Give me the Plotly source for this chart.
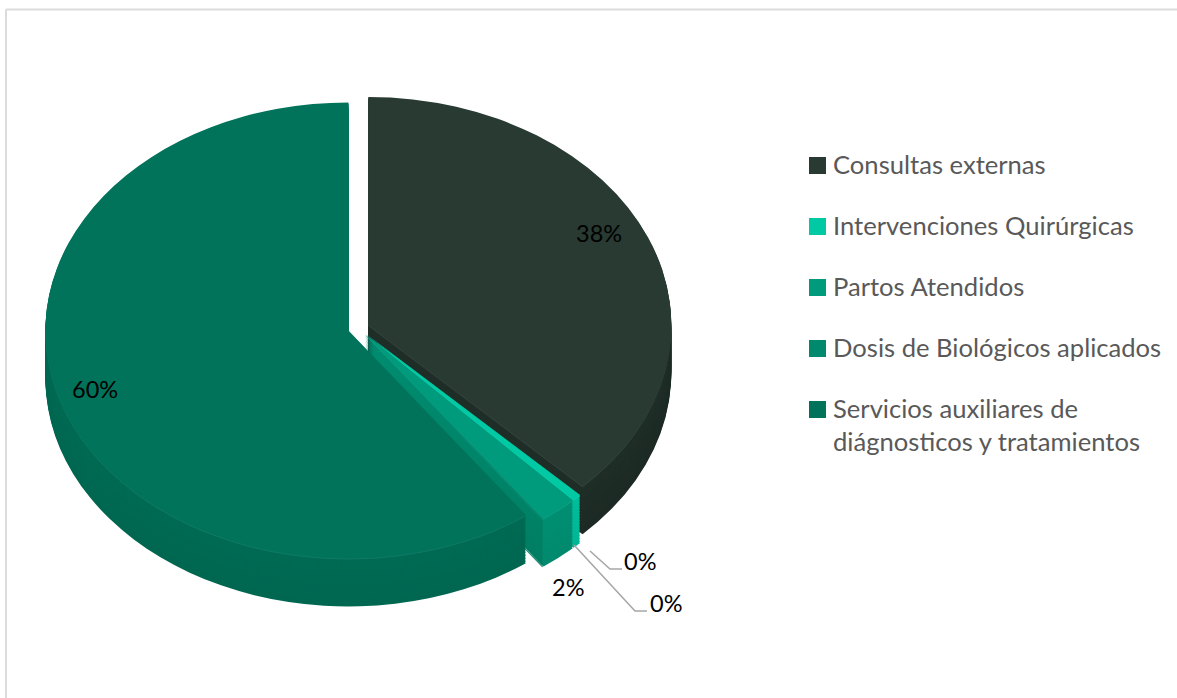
import plotly.graph_objects as go

categories = ["Consultas externas", "Intervenciones Quirúrgicas", "Partos Atendidos",
              "Dosis de Biológicos aplicados", "Servicios auxiliares de<br>diágnosticos y tratamientos"]
values = [37.5, 0.49, 2.0, 0.05, 59.96]
top_colors = ["#283A32", "#00C9A3", "#009A7C", "#00896C", "#00735A"]
side_colors = ["#1D2A25", "#00B795", "#008A6E", "#007A60", "#006751"]
label_texts = [f"{round(v):d}%" for v in values]

# drawing geometry of the tilted disc (pixels of the final picture)
W, H = 1177, 698
CX, CY = 358.5, 328.0
RX, RY = 303.0, 228.0
DEPTH = 49.0
PULL = 0.035
# pies are drawn round, then the pie layer is stretched into an ellipse
R0 = 250.0
D0 = 2 * R0 * (1 + PULL)
CX0, CY0 = 300.0, 300.0
SX, SY = RX / R0, RY / R0


def mix(a, b, t):
    ca = [int(a[i:i + 2], 16) for i in (1, 3, 5)]
    cb = [int(b[i:i + 2], 16) for i in (1, 3, 5)]
    return "#%02X%02X%02X" % tuple(round(x + (y - x) * t) for x, y in zip(ca, cb))


def pie(shift, colors):
    y_center = CY0 + shift / SY
    return go.Pie(
        labels=categories, values=values, sort=False, direction="clockwise", rotation=0,
        marker=dict(colors=colors, line=dict(width=0)),
        pull=PULL, textinfo="none", hoverinfo="skip", showlegend=False,
        domain=dict(x=[(CX0 - D0 / 2) / W, (CX0 + D0 / 2) / W],
                    y=[1 - (y_center + D0 / 2) / H, 1 - (y_center - D0 / 2) / H]),
    )


fig = go.Figure()
step = 1.5
n = int(DEPTH / step)
for i in range(n, 0, -1):
    t = i / n
    fig.add_trace(pie(i * step, [mix(a, b, 0.7 + t * 0.3) for a, b in zip(top_colors, side_colors)]))
fig.add_trace(pie(1.0, [mix(c, "#FFFFFF", 0.06) for c in top_colors]))
fig.add_trace(pie(0, top_colors))

frame = dict(type="line", xref="paper", yref="paper", line=dict(color="#DCDCDC", width=2), layer="below")
shapes = [dict(frame, x0=6 / W, x1=6 / W, y0=0, y1=1 - 9.5 / H),
          dict(frame, x0=6 / W, x1=1, y0=1 - 9.5 / H, y1=1 - 9.5 / H)]

annotations = []
legend_y = [165, 226, 287, 348, 409]
for name, color, y in zip(categories, top_colors, legend_y):
    shapes.append(dict(type="rect", xref="paper", yref="paper",
                       x0=809 / W, x1=826 / W, y0=1 - (y + 9) / H, y1=1 - (y - 8) / H,
                       fillcolor=color, line=dict(width=0)))
    annotations.append(dict(text=name, xref="paper", yref="paper", x=831 / W, y=1 - (y - 18) / H,
                            xanchor="left", yanchor="top", align="left", showarrow=False,
                            font=dict(family="Lato", size=25.6, color="#595959")))

label_pos = [(599, 233), (640, 561), (568, 587), (666, 603), (95, 389)]
for text, (x, y) in zip(label_texts, label_pos):
    annotations.append(dict(text=text, xref="paper", yref="paper", x=x / W, y=1 - y / H,
                            xanchor="center", yanchor="middle", showarrow=False,
                            font=dict(family="Lato", size=23.5, color="#000000")))

for pts in ([(590, 551), (610, 569), (622, 569)], [(574, 545), (635, 611), (647, 611)]):
    path = "M " + " L ".join(f"{x / W} {1 - y / H}" for x, y in pts)
    shapes.append(dict(type="path", xref="paper", yref="paper", path=path,
                       line=dict(color="#A6A6A6", width=1.5)))

fig.update_layout(width=W, height=H, margin=dict(l=0, r=0, t=0, b=0),
                  paper_bgcolor="white", plot_bgcolor="white",
                  shapes=shapes, annotations=annotations, showlegend=False)

post = """
document.body.style.margin = '0';
var gd = document.getElementById('{plot_id}');
function stretch() {
  var layer = gd.querySelector('.pielayer');
  if (layer) layer.setAttribute('transform',
    'translate(%f,%f) scale(%f,%f) translate(%f,%f)');
}
stretch();
gd.on('plotly_afterplot', stretch);
""" % (CX, CY, SX, SY, -CX0, -CY0)
fig.write_html("out.html", post_script=post, config=dict(displayModeBar=False))
